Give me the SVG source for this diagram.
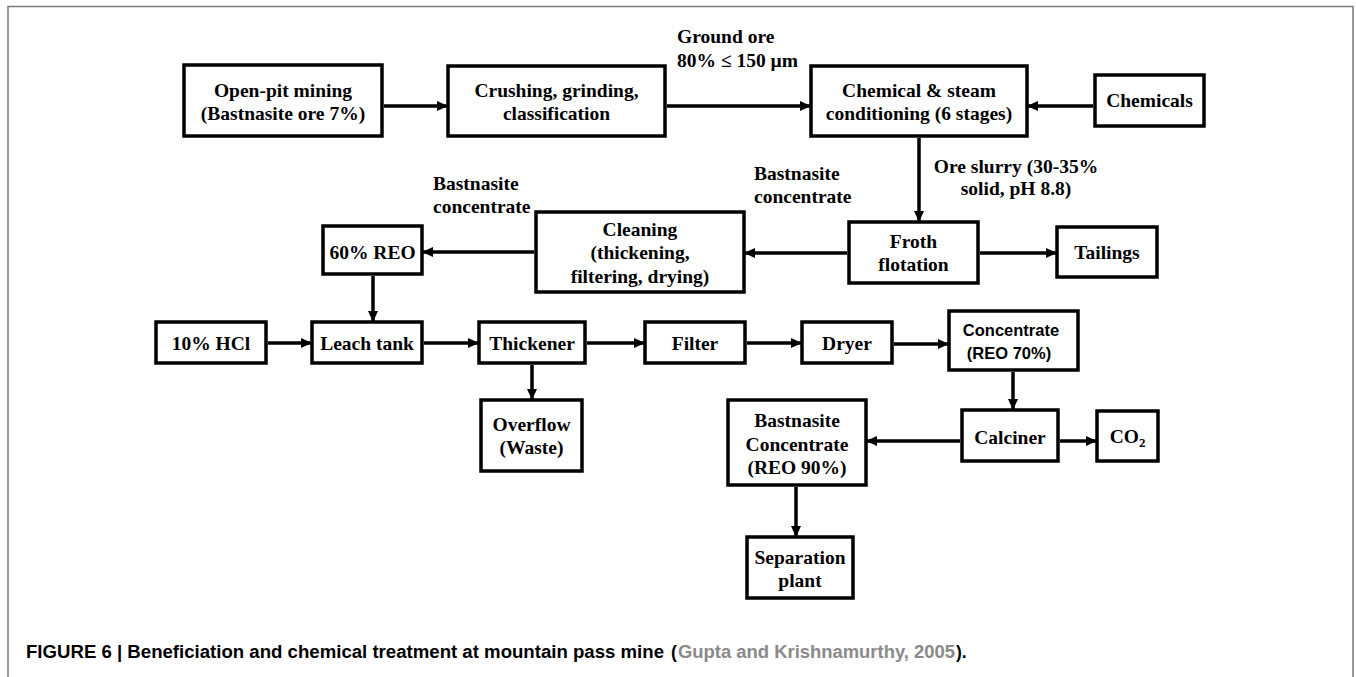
<svg xmlns="http://www.w3.org/2000/svg" width="1356" height="677" viewBox="0 0 1356 677">
  <defs>
    <marker id="arrow" markerUnits="userSpaceOnUse" markerWidth="12" markerHeight="11" refX="11" refY="5" orient="auto">
      <path d="M0,0 L11,5 L0,10 z" fill="#000"/>
    </marker>
    <style>
      .box { fill: #fff; stroke: #000; stroke-width: 3.5; }
      .lbl { font-family: "Liberation Serif", "Times New Roman", serif; font-weight: bold; font-size: 19.5px; fill: #000; }
      .c { text-anchor: middle; }
      .sans { font-family: "Liberation Sans", Arial, sans-serif; font-weight: bold; font-size: 16.5px; fill: #000; text-anchor: middle; }
      .link { fill: none; stroke: #000; stroke-width: 3.5; marker-end: url(#arrow); }
      .cap { font-family: "Liberation Sans Narrow", "Liberation Sans", Arial, sans-serif; font-weight: bold; font-size: 17.5px; }
    </style>
  </defs>

  <rect width="1356" height="677" fill="#fff"/>
  <!-- panel frame -->
  <path d="M8,677 V6.5 H1353 V677" fill="none" stroke="#7a7a7a" stroke-width="1.5"/>

  <!-- connectors -->
  <g id="connectors">
    <line class="link" x1="384" y1="106" x2="448" y2="106"/>
    <line class="link" x1="667" y1="106" x2="811" y2="106"/>
    <line class="link" x1="1093" y1="106" x2="1027" y2="106"/>
    <line class="link" x1="919" y1="138" x2="919" y2="222"/>
    <line class="link" x1="847" y1="253" x2="744" y2="253"/>
    <line class="link" x1="980" y1="253" x2="1057" y2="253"/>
    <line class="link" x1="534" y1="252" x2="422" y2="252"/>
    <line class="link" x1="373" y1="276" x2="373" y2="322"/>
    <line class="link" x1="268" y1="343" x2="312" y2="343"/>
    <line class="link" x1="424" y1="343" x2="479" y2="343"/>
    <line class="link" x1="587" y1="343" x2="645" y2="343"/>
    <line class="link" x1="747" y1="343" x2="802" y2="343"/>
    <line class="link" x1="894" y1="344" x2="949" y2="344"/>
    <line class="link" x1="532" y1="365" x2="532" y2="400"/>
    <line class="link" x1="1013" y1="372" x2="1013" y2="410"/>
    <line class="link" x1="960" y1="441" x2="866" y2="441"/>
    <line class="link" x1="1060" y1="441" x2="1097" y2="441"/>
    <line class="link" x1="796" y1="487" x2="796" y2="537"/>
  </g>

  <!-- flow labels -->
  <g id="flow-labels" class="lbl">
    <text x="677" y="43">Ground ore</text>
    <text x="677" y="67">80% ≤ 150 µm</text>
    <text class="c" x="1016" y="173">Ore slurry (30-35%</text>
    <text class="c" x="1016" y="195">solid, pH 8.8)</text>
    <text x="754" y="180">Bastnasite</text>
    <text x="754" y="203">concentrate</text>
    <text x="433" y="190">Bastnasite</text>
    <text x="433" y="213">concentrate</text>
  </g>

  <g id="open-pit">
    <rect class="box" x="184" y="65" width="198" height="71"/>
    <text class="lbl c" x="283" y="97">Open-pit mining</text>
    <text class="lbl c" x="283" y="120">(Bastnasite ore 7%)</text>
  </g>
  <g id="crushing">
    <rect class="box" x="448" y="66" width="217" height="70"/>
    <text class="lbl c" x="556.5" y="97">Crushing, grinding,</text>
    <text class="lbl c" x="556.5" y="120">classification</text>
  </g>
  <g id="conditioning">
    <rect class="box" x="811" y="66" width="216" height="70"/>
    <text class="lbl c" x="919" y="97">Chemical &amp; steam</text>
    <text class="lbl c" x="919" y="120">conditioning (6 stages)</text>
  </g>
  <g id="chemicals">
    <rect class="box" x="1095" y="75" width="109" height="51"/>
    <text class="lbl c" x="1149.5" y="107">Chemicals</text>
  </g>
  <g id="froth">
    <rect class="box" x="849" y="222" width="129" height="61"/>
    <text class="lbl c" x="913.5" y="248">Froth</text>
    <text class="lbl c" x="913.5" y="271">flotation</text>
  </g>
  <g id="tailings">
    <rect class="box" x="1057" y="227" width="100" height="50"/>
    <text class="lbl c" x="1107" y="259">Tailings</text>
  </g>
  <g id="cleaning">
    <rect class="box" x="536" y="212" width="208" height="80"/>
    <text class="lbl c" x="640" y="236">Cleaning</text>
    <text class="lbl c" x="640" y="259">(thickening,</text>
    <text class="lbl c" x="640" y="283">filtering, drying)</text>
  </g>
  <g id="reo60">
    <rect class="box" x="323" y="226" width="99" height="48"/>
    <text class="lbl c" x="372.5" y="258.5">60% REO</text>
  </g>
  <g id="hcl">
    <rect class="box" x="156" y="322" width="110" height="41"/>
    <text class="lbl c" x="211" y="349.5">10% HCl</text>
  </g>
  <g id="leach">
    <rect class="box" x="312" y="322" width="110" height="41"/>
    <text class="lbl c" x="367" y="349.5">Leach tank</text>
  </g>
  <g id="thickener">
    <rect class="box" x="479" y="322" width="106" height="41"/>
    <text class="lbl c" x="532" y="349.5">Thickener</text>
  </g>
  <g id="filter">
    <rect class="box" x="645" y="322" width="100" height="41"/>
    <text class="lbl c" x="695" y="349.5">Filter</text>
  </g>
  <g id="dryer">
    <rect class="box" x="802" y="322" width="90" height="41"/>
    <text class="lbl c" x="847" y="349.5">Dryer</text>
  </g>
  <g id="concentrate70">
    <rect class="box" x="949" y="311" width="129" height="59"/>
    <text class="sans" x="1011" y="336">Concentrate</text>
    <text class="sans" x="1009" y="359">(REO 70%)</text>
  </g>
  <g id="overflow">
    <rect class="box" x="481" y="400" width="101" height="71"/>
    <text class="lbl c" x="531.5" y="431">Overflow</text>
    <text class="lbl c" x="531.5" y="454">(Waste)</text>
  </g>
  <g id="concentrate90">
    <rect class="box" x="728" y="400" width="138" height="85"/>
    <text class="lbl c" x="797" y="426.5">Bastnasite</text>
    <text class="lbl c" x="797" y="450.5">Concentrate</text>
    <text class="lbl c" x="797" y="473.5">(REO 90%)</text>
  </g>
  <g id="calciner">
    <rect class="box" x="962" y="410" width="96" height="51"/>
    <text class="lbl c" x="1010" y="443.5">Calciner</text>
  </g>
  <g id="co2">
    <rect class="box" x="1097" y="411" width="61" height="50"/>
    <text class="lbl c" x="1127.5" y="443">CO<tspan font-size="13px" dy="4">2</tspan></text>
  </g>
  <g id="separation">
    <rect class="box" x="747" y="537" width="106" height="61"/>
    <text class="lbl c" x="800" y="563.5">Separation</text>
    <text class="lbl c" x="800" y="587">plant</text>
  </g>

  <!-- caption -->
  <g id="caption" class="cap">
    <text x="26" y="658" fill="#000" textLength="638" lengthAdjust="spacingAndGlyphs">FIGURE 6 | Beneficiation and chemical treatment at mountain pass mine</text>
    <text x="671" y="658" fill="#000">(</text>
    <text x="678" y="658" fill="#8a8a8a" textLength="277" lengthAdjust="spacingAndGlyphs">Gupta and Krishnamurthy, 2005</text>
    <text x="956" y="658" fill="#000">).</text>
  </g>
</svg>
